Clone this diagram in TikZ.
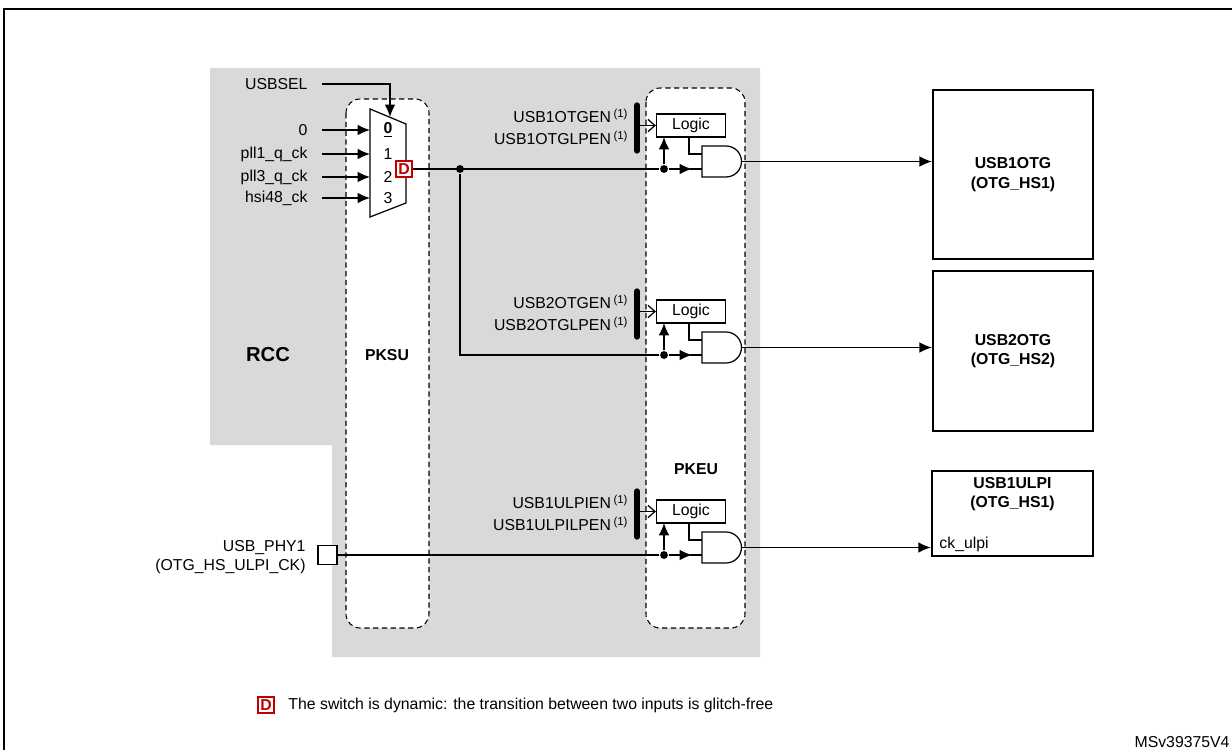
\documentclass[tikz,border=0pt]{standalone}
\usepackage{fontspec}
\setmainfont{Liberation Sans}
\usetikzlibrary{arrows.meta,positioning}
\definecolor{rccgrey}{RGB}{217,217,217}
\definecolor{dynred}{RGB}{192,0,0}
\begin{document}
\begin{tikzpicture}[x=0.02cm, y=-0.02cm, line width=0.7pt, >={Latex[length=7pt,width=6pt]}, font=\fontsize{9}{11}\selectfont]
    \tikzstyle{pk}=[draw, dashed, dash pattern=on 3pt off 2pt, line width=0.6pt, rounded corners=8pt]
    \tikzstyle{logic}=[draw, fill=white, minimum width=1.38cm, minimum height=0.46cm, inner sep=0pt]
    \tikzstyle{periph}=[draw, line width=1.4pt, fill=white, align=center, font=\fontsize{9}{11}\selectfont\bfseries]
    \tikzstyle{dyn}=[draw=dynred, line width=0.9pt, text=dynred, font=\fontsize{9}{11}\selectfont\bfseries, minimum size=0.32cm, inner sep=0pt]
    \tikzstyle{dot}=[circle, fill, inner sep=0pt, minimum size=4.5pt]

    \useasboundingbox (0,0) rectangle (1232,750);
    \draw[line width=1pt] (4,752) -- (4,9) -- (1236,9);

    % RCC area
    \fill[rccgrey] (210,68) -- (760,68) -- (760,657) -- (332,657) -- (332,445) -- (210,445) -- cycle;
    \node[font=\fontsize{11.5}{13}\selectfont\bfseries] (rcc) at (268,355) {RCC};
    \draw[pk, fill=white] (346,99) rectangle (429,628);
    \draw[pk, fill=white] (646,88) rectangle (745,628);
    \node[font=\fontsize{9}{11}\selectfont\bfseries] (pksu) at (387,355) {PKSU};
    \node[font=\fontsize{9}{11}\selectfont\bfseries] (pkeu) at (696,469) {PKEU};

    % mux
    \draw[fill=white] (370,109) -- (406,124) -- (406,203) -- (370,217) -- cycle;
    \node (in0) at (388,130) {\underline{\textbf{0}}};
    \foreach \n/\y/\lbl in {0/130/0, 1/154/pll1\_q\_ck, 2/177/pll3\_q\_ck, 3/198/hsi48\_ck} {
        \node[left] (src\n) at (314,\y) {\lbl};
        \draw[->] (322,\y) -- (370,\y);
    }
    \foreach \n/\y in {1/154, 2/177, 3/198}
        \node (in\n) at (388,\y) {\n};
    \node[left] (usbsel) at (314,84) {USBSEL};
    \coordinate (sel) at (390,117);
    \draw[->] (322,84) -| (sel);
    \node[dyn, fill=white] (dsw) at (404,169) {D};
    \node[dot] (split) at (460,169) {};

    % gating blocks
    \foreach \dy/\n/\en/\lp in {0/1/USB1OTGEN/USB1OTGLPEN, 186/2/USB2OTGEN/USB2OTGLPEN, 386/3/USB1ULPIEN/USB1ULPILPEN} {
        \node[left] (en\n) at (634,116+\dy) {\en\,\raisebox{0.6ex}{\fontsize{6.5}{7}\selectfont(1)}};
        \node[left] (lp\n) at (634,138+\dy) {\lp\,\raisebox{0.6ex}{\fontsize{6.5}{7}\selectfont(1)}};
        \draw[line width=3pt, line cap=round] (637,105+\dy) -- (637,151+\dy);
        \node[logic] (logic\n) at (691,125.5+\dy) {Logic};
        \draw[-{Straight Barb[length=4pt,width=7pt]}] (640,125.5+\dy) -- (logic\n.west);
        \draw[fill=white] (702,146+\dy) -- (726,146+\dy) arc[start angle=90, end angle=-90, radius=0.31cm] -- (702,177+\dy) -- cycle;
        \coordinate (and\n) at (742,161.5+\dy);
        \draw (689,137+\dy) |- (702,154+\dy);
        \node[dot] (tap\n) at (664,169+\dy) {};
        \draw[->] (tap\n) -- (664,137+\dy);
        \draw[->] (tap\n) -- (692,169+\dy);
        \draw (690,169+\dy) -- (702,169+\dy);
    }

    % kernel clock lines
    \draw (dsw.east) -- (tap1);
    \draw (split) |- (tap2);
    \node[draw, fill=white, minimum size=0.38cm, inner sep=0pt] (phy) at (327.5,555) {};
    \node[left, align=right] (phylbl) at (312,557) {USB\_PHY1\\(OTG\_HS\_ULPI\_CK)};
    \draw (phy.east) -- (tap3);

    % peripherals
    \node[periph, minimum width=3.2cm, minimum height=3.38cm] (otg1) at (1013,174.5) {USB1OTG\\(OTG\_HS1)};
    \node[periph, minimum width=3.2cm, minimum height=3.2cm] (otg2) at (1013,351) {USB2OTG\\(OTG\_HS2)};
    \node[periph, minimum width=3.22cm, minimum height=1.7cm] (ulpi) at (1012.5,513.5) {};
    \node[font=\fontsize{9}{11}\selectfont\bfseries, align=center] (ulpiname) at (1012.5,494) {USB1ULPI\\(OTG\_HS1)};
    \node[right] (ckulpi) at (933,544) {ck\_ulpi};
    \draw[->] (and1) -- (and1 -| otg1.west);
    \draw[->] (and2) -- (and2 -| otg2.west);
    \draw[->] (and3) -- (and3 -| ulpi.west);

    % legend
    \node[dyn] (dkey) at (266,705) {D};
    \node[right] (dnote) at (282,705) {The switch is dynamic: the transition between two inputs is glitch-free};
    \node[left] (ref) at (1236,742) {MSv39375V4};
\end{tikzpicture}
\end{document}
